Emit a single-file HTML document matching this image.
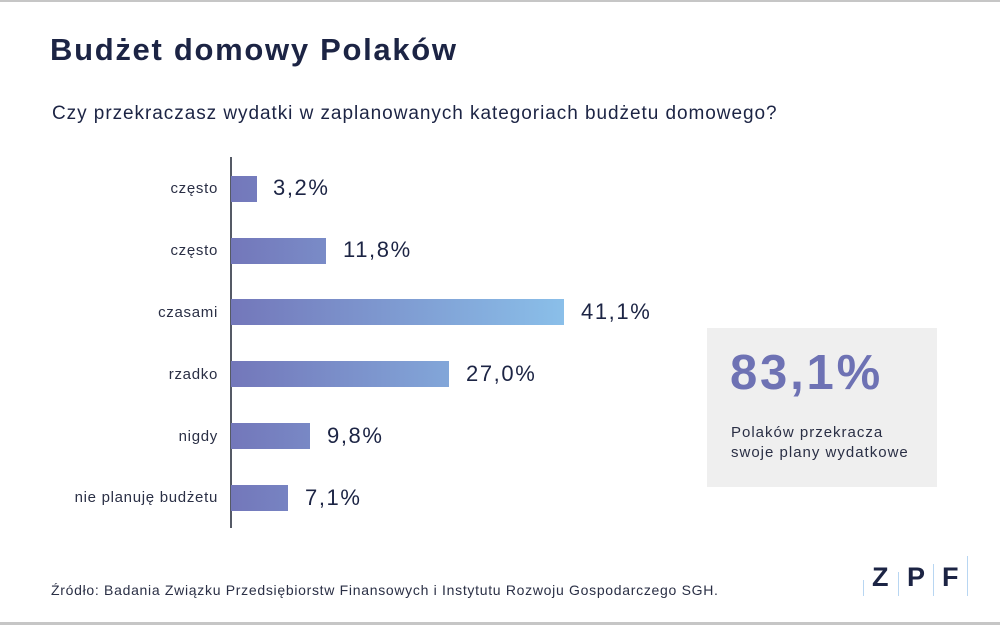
<!DOCTYPE html>
<html><head><meta charset="utf-8"><style>
body{margin:0;width:1000px;height:625px;background:#fff;position:relative;overflow:hidden;font-family:"Liberation Sans",sans-serif;color:#1c2444}
.a{position:absolute;white-space:nowrap}
.bar{position:absolute;left:231px;height:26px;background:linear-gradient(90deg,#7377ba,#8abfe9);background-size:333px 26px;background-repeat:no-repeat}
.lab{position:absolute;right:782px;font-size:15px;color:#2a2f45;letter-spacing:0.7px}
.val{position:absolute;font-size:22px;color:#1c2444;letter-spacing:1.6px}
</style></head><body>
<div class="a" style="left:0;top:0;width:1000px;height:2px;background:#c6c6c6"></div>
<div class="a" style="left:0;top:622px;width:1000px;height:3px;background:#c6c6c6"></div>
<div class="a" style="left:50px;top:32px;font-size:31px;font-weight:bold;letter-spacing:1.7px">Budżet domowy Polaków</div>
<div class="a" style="left:52px;top:103px;font-size:19px;letter-spacing:0.95px">Czy przekraczasz wydatki w zaplanowanych kategoriach budżetu domowego?</div>
<div class="a" style="left:230px;top:157px;width:2px;height:371px;background:#555a66"></div>

<div class="lab" style="top:180px">często</div>
<div class="bar" style="top:176px;width:26px"></div>
<div class="val" style="left:273px;top:175px">3,2%</div>

<div class="lab" style="top:242px">często</div>
<div class="bar" style="top:238px;width:95px"></div>
<div class="val" style="left:343px;top:237px">11,8%</div>

<div class="lab" style="top:304px">czasami</div>
<div class="bar" style="top:299px;width:333px"></div>
<div class="val" style="left:581px;top:299px">41,1%</div>

<div class="lab" style="top:366px">rzadko</div>
<div class="bar" style="top:361px;width:218px"></div>
<div class="val" style="left:466px;top:361px">27,0%</div>

<div class="lab" style="top:428px">nigdy</div>
<div class="bar" style="top:423px;width:79px"></div>
<div class="val" style="left:327px;top:423px">9,8%</div>

<div class="lab" style="top:489px">nie planuję budżetu</div>
<div class="bar" style="top:485px;width:57px"></div>
<div class="val" style="left:305px;top:485px">7,1%</div>

<div class="a" style="left:707px;top:328px;width:230px;height:159px;background:#efefef"></div>
<div class="a" style="left:730px;top:345px;font-size:49px;font-weight:bold;color:#6e72b4;letter-spacing:2.8px">83,1%</div>
<div class="a" style="left:731px;top:423px;font-size:15px;line-height:20px;color:#2a2f45;letter-spacing:1px">Polaków przekracza<br>swoje plany wydatkowe</div>

<div class="a" style="left:51px;top:582px;font-size:14px;color:#2a2f45;letter-spacing:0.7px">Źródło: Badania Związku Przedsiębiorstw Finansowych i Instytutu Rozwoju Gospodarczego SGH.</div>

<div class="a" style="left:863px;top:580px;width:1px;height:16px;background:#b8d6f2"></div>
<div class="a" style="left:898px;top:572px;width:1px;height:24px;background:#b8d6f2"></div>
<div class="a" style="left:933px;top:564px;width:1px;height:32px;background:#b8d6f2"></div>
<div class="a" style="left:967px;top:556px;width:1px;height:40px;background:#b8d6f2"></div>
<div class="a" style="left:872px;top:562px;font-size:27px;font-weight:bold;color:#1c2444">Z</div>
<div class="a" style="left:907px;top:562px;font-size:27px;font-weight:bold;color:#1c2444">P</div>
<div class="a" style="left:942px;top:562px;font-size:27px;font-weight:bold;color:#1c2444">F</div>
</body></html>
